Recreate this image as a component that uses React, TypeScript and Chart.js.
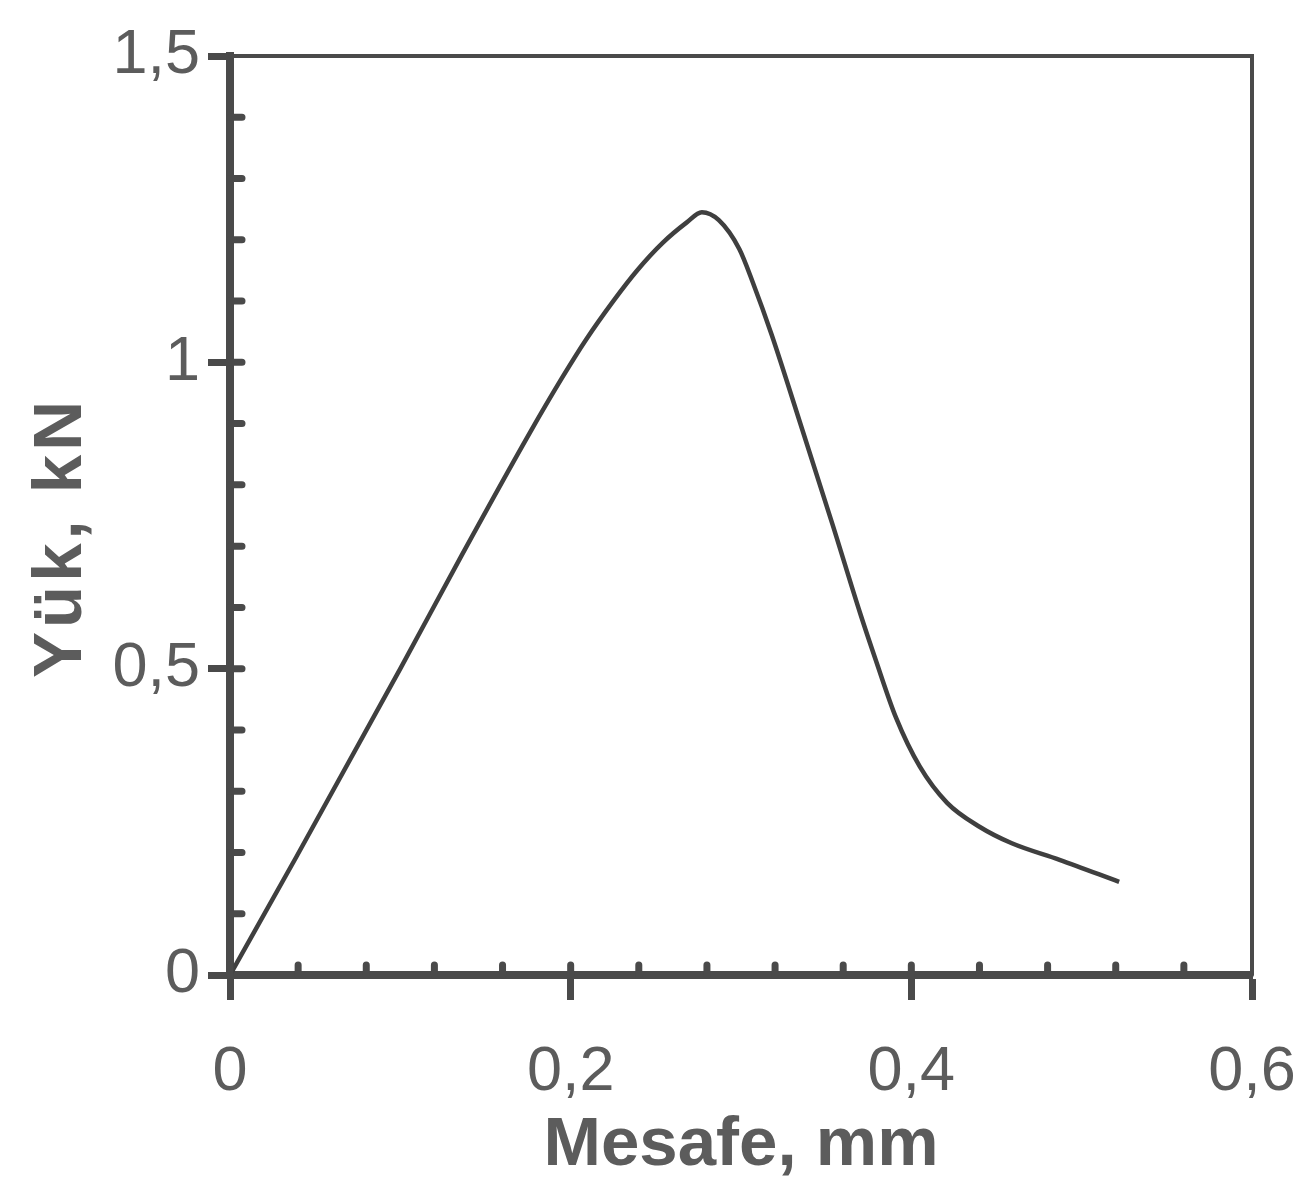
import React, { useEffect, useRef } from "react";
import { Chart, registerables } from "chart.js";

Chart.register(...registerables);

// Distance (mm) and load (kN)
const distanceMm = [0, 0.039, 0.1, 0.136, 0.176, 0.195, 0.209, 0.225, 0.239, 0.254, 0.268, 0.277, 0.287, 0.299, 0.307, 0.318, 0.336, 0.354, 0.37, 0.379, 0.391, 0.405, 0.421, 0.44, 0.459, 0.487, 0.522];
const loadKN = [0, 0.193, 0.5, 0.685, 0.885, 0.975, 1.037, 1.1, 1.15, 1.195, 1.228, 1.245, 1.232, 1.185, 1.13, 1.045, 0.89, 0.733, 0.59, 0.515, 0.42, 0.34, 0.281, 0.242, 0.215, 0.188, 0.152];

// Axis ticks
const xMajorTicks = [0, 0.2, 0.4, 0.6];
const yMajorTicks = [0, 0.5, 1, 1.5];
const xMinorTicks = [0, 0.04, 0.08, 0.12, 0.16, 0.2, 0.24, 0.28, 0.32, 0.36, 0.4, 0.44, 0.48, 0.52, 0.56];
const yMinorTicks = [0.1, 0.2, 0.3, 0.4, 0.5, 0.6, 0.7, 0.8, 0.9, 1.0, 1.1, 1.2, 1.3, 1.4];

const xTitle = "Mesafe, mm";
const yTitle = "Yük, kN";

const AXIS = "#4a4a4a";
const TEXT = "#5c5c5c";
const FONT = "'Liberation Sans', Arial, Helvetica, sans-serif";

const fmt = (v: number) => String(Math.round(v * 10) / 10).replace(".", ",");

const framePlugin = {
  id: "frame",
  afterDraw(chart: any) {
    const { ctx, chartArea: a, scales } = chart;
    const x = scales.x;
    const y = scales.y;
    ctx.save();
    ctx.strokeStyle = AXIS;
    ctx.lineCap = "round";
    // top and right frame
    ctx.lineWidth = 4;
    ctx.beginPath();
    ctx.moveTo(a.left, a.top);
    ctx.lineTo(a.right, a.top);
    ctx.lineTo(a.right, a.bottom);
    ctx.stroke();
    // minor ticks, inward
    ctx.lineWidth = 7;
    ctx.beginPath();
    for (const v of xMinorTicks) {
      const px = x.getPixelForValue(v);
      ctx.moveTo(px, a.bottom);
      ctx.lineTo(px, a.bottom - 10);
    }
    for (const v of yMinorTicks) {
      const py = y.getPixelForValue(v);
      ctx.moveTo(a.left, py);
      ctx.lineTo(a.left + 12, py);
    }
    ctx.stroke();
    ctx.restore();

    // y axis title (letter-spaced, rotated)
    ctx.save();
    ctx.translate(a.left - 168, (a.top + a.bottom) / 2 + 22);
    ctx.rotate(-Math.PI / 2);
    ctx.font = `bold 69px ${FONT}`;
    try {
      (ctx as any).letterSpacing = "4px";
    } catch (e) {}
    ctx.textAlign = "center";
    ctx.textBaseline = "middle";
    ctx.fillStyle = TEXT;
    ctx.fillText(yTitle, 0, 0);
    ctx.restore();
  },
};

export default function App() {
  const ref = useRef<HTMLCanvasElement | null>(null);

  useEffect(() => {
    document.body.style.margin = "0";
    const canvas = ref.current;
    if (!canvas) return;
    const chart = new Chart(canvas, {
      type: "line",
      data: {
        datasets: [
          {
            data: distanceMm.map((d, i) => ({ x: d, y: loadKN[i] })),
            borderColor: "#3f3f3f",
            borderWidth: 4.5,
            pointRadius: 0,
            cubicInterpolationMode: "monotone",
            fill: false,
          },
        ],
      },
      options: {
        animation: false,
        responsive: false,
        maintainAspectRatio: false,
        layout: { padding: { left: 0, top: 56, right: 54, bottom: 0 } },
        plugins: { legend: { display: false }, tooltip: { enabled: false } },
        scales: {
          x: {
            type: "linear",
            min: 0,
            max: 0.6,
            afterBuildTicks: (s: any) => {
              s.ticks = xMajorTicks.map((v) => ({ value: v }));
            },
            afterFit: (s: any) => {
              s.height = 212;
              s.paddingLeft = 0;
              s.paddingRight = 0;
            },
            ticks: {
              callback: (v: any) => fmt(Number(v)),
              color: TEXT,
              font: { family: FONT, size: 63 },
              padding: 35,
              maxRotation: 0,
              autoSkip: false,
            },
            grid: {
              drawOnChartArea: false,
              drawTicks: true,
              tickLength: 25,
              tickWidth: 7,
              tickColor: AXIS,
            },
            border: { display: true, color: AXIS, width: 8 },
            title: {
              display: true,
              text: xTitle,
              color: TEXT,
              font: { family: FONT, size: 69, weight: "bold" },
              padding: { top: 0, bottom: 0 },
            },
          },
          y: {
            type: "linear",
            min: 0,
            max: 1.5,
            afterBuildTicks: (s: any) => {
              s.ticks = yMajorTicks.map((v) => ({ value: v }));
            },
            afterFit: (s: any) => {
              s.width = 230;
              s.paddingTop = 0;
              s.paddingBottom = 0;
            },
            ticks: {
              callback: (v: any) => fmt(Number(v)),
              color: TEXT,
              font: { family: FONT, size: 63 },
              padding: 8,
              autoSkip: false,
            },
            grid: {
              drawOnChartArea: false,
              drawTicks: true,
              tickLength: 22,
              tickWidth: 7,
              tickColor: AXIS,
            },
            border: { display: true, color: AXIS, width: 8 },
            title: { display: false, text: yTitle },
          },
        },
      },
      plugins: [framePlugin],
    } as any);
    return () => chart.destroy();
  }, []);

  return (
    <div style={{ position: "absolute", left: 0, top: 0, width: 1306, height: 1187, background: "#fff" }}>
      <canvas ref={ref} width={1306} height={1187} style={{ width: 1306, height: 1187, display: "block" }} />
    </div>
  );
}
